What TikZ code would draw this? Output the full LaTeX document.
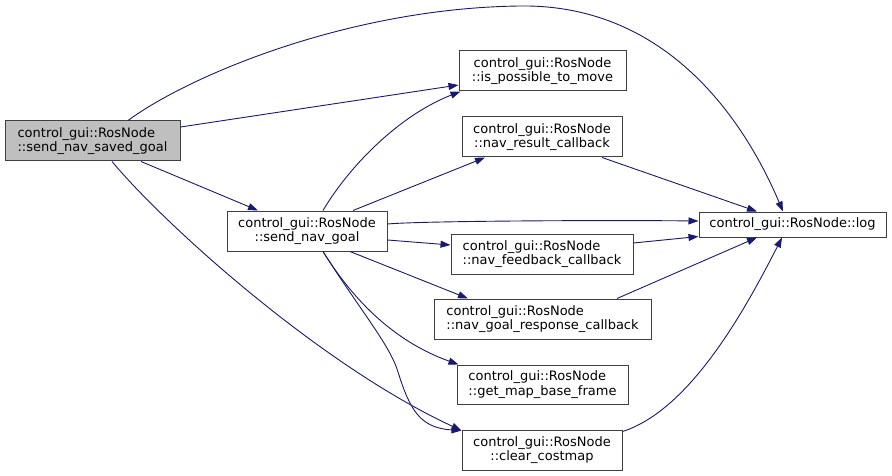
\documentclass[tikz,border=0pt]{standalone}
\usepackage{fontspec}
\setmainfont{DejaVu Sans}
\usetikzlibrary{arrows.meta}
\definecolor{edgeblue}{RGB}{25,25,112}
\definecolor{boxline}{RGB}{64,64,64}
\definecolor{mainfill}{RGB}{191,191,191}
\begin{document}
\begin{tikzpicture}[x=1pt,y=-1pt,
  fn/.style={draw=boxline,line width=1pt,fill=white,rectangle,inner sep=0pt,
    font=\fontsize{13pt}{14.5pt}\selectfont,align=center},
  fnl/.style={fn,align=left},
  edge/.style={draw=edgeblue,line width=0.9pt,-{Triangle[length=10pt,width=7pt]}}]
\useasboundingbox (0,0) rectangle (892,476);
\node[fnl,fill=mainfill,minimum width=175pt,minimum height=40pt] (A) at (92.5,141) {control\_gui::RosNode\\::send\_nav\_saved\_goal};
\node[fn,minimum width=160pt,minimum height=40pt] (B) at (307,231) {control\_gui::RosNode\\::send\_nav\_goal};
\node[fn,minimum width=167pt,minimum height=40pt] (C) at (542.5,71) {control\_gui::RosNode\\::is\_possible\_to\_move};
\node[fn,minimum width=160pt,minimum height=40pt] (D) at (542,137) {control\_gui::RosNode\\::nav\_result\_callback};
\node[fn,minimum width=187pt,minimum height=25pt] (E) at (792.5,224.5) {control\_gui::RosNode::log};
\node[fnl,minimum width=182pt,minimum height=40pt] (F) at (542,254) {control\_gui::RosNode\\::nav\_feedback\_callback};
\node[fnl,minimum width=217pt,minimum height=40pt] (G) at (542.5,319) {control\_gui::RosNode\\::nav\_goal\_response\_callback};
\node[fnl,minimum width=171pt,minimum height=39pt] (H) at (542.5,384.5) {control\_gui::RosNode\\::get\_map\_base\_frame};
\node[fn,minimum width=160pt,minimum height=40pt] (I) at (542,450) {control\_gui::RosNode\\::clear\_costmap};

% from send_nav_saved_goal
\draw[edge] ([xshift=35.5pt]A.north) .. controls (190,75) and (350,8) .. (520,6) .. controls (660,4) and (740,110) .. ([xshift=-9.5pt]E.north);
\draw[edge] ([yshift=14pt]A.east) -- ([yshift=-14pt]C.west);
\draw[edge] ([xshift=48.5pt]A.south) -- ([xshift=-49pt]B.north);
\draw[edge] ([xshift=19.5pt]A.south) .. controls (165,225) and (320,365) .. ([yshift=-1pt]I.north west);

% from send_nav_goal
\draw[edge] ([xshift=16pt]B.north) .. controls (350,165) and (400,115) .. ([xshift=2pt]C.south west);
\draw[edge] ([xshift=46pt]B.north) -- ([xshift=-57pt]D.south);
\draw[edge] ([yshift=7pt]B.east) .. controls (420,221) and (600,220) .. ([yshift=3.5pt]E.west);
\draw[edge] ([yshift=-9pt]B.east) -- ([yshift=9pt]F.west);
\draw[edge] ([xshift=43pt]B.south) -- ([xshift=-74.5pt]G.north);
\draw[edge] ([xshift=16pt]B.south) .. controls (350,295) and (390,340) .. ([xshift=2pt]H.north west);
\draw[edge] ([xshift=16pt]B.south) .. controls (360,310) and (390,345) .. (398,372) .. controls (410,410) and (420,428) .. ([yshift=-1pt]I.north west);

% into log
\draw[edge] ([xshift=60pt]D.south) -- ([xshift=-35.5pt]E.north);
\draw[edge] ([yshift=11pt]F.east) -- ([yshift=1pt]E.south west);
\draw[edge] ([xshift=74.5pt]G.north) -- ([xshift=-35.5pt]E.south);
\draw[edge] ([yshift=-2pt]I.north east) .. controls (690,410) and (745,310) .. ([xshift=-10.5pt]E.south);
\end{tikzpicture}
\end{document}
